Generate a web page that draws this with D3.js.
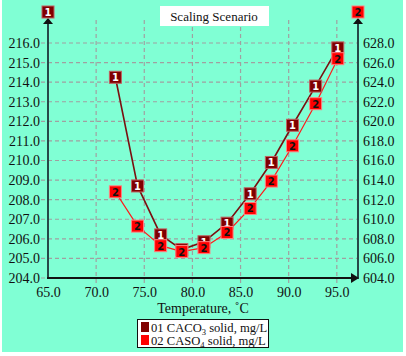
<!DOCTYPE html>
<html>
<head>
<meta charset="utf-8">
<script src="https://cdn.jsdelivr.net/npm/d3@7"></script>
<style>
  body { margin: 0; background: #fff; }
  svg text.serif { font-family: "Liberation Serif", "Times New Roman", Tinos, "DejaVu Serif", serif; }
</style>
</head>
<body>
<div id="chart"></div>
<script>
// temperatures (deg C)
const temps = [72.0, 74.3, 76.7, 78.9, 81.2, 83.6, 86.0, 88.2, 90.4, 92.8, 95.1]
// 01 CACO3 solid, mg/L (left axis)
const caco3 = [214.25, 208.7, 206.2, 205.45, 205.85, 206.8, 208.3, 209.9, 211.8, 213.8, 215.75]
// 02 CASO4 solid, mg/L (right axis)
const caso4 = [612.8, 609.3, 607.3, 606.7, 607.1, 608.65, 611.1, 613.9, 617.5, 621.8, 626.4]

const xTicks = [65, 70, 75, 80, 85, 90, 95]
const leftTicks = d3.range(204, 216.5, 1)
const rightTicks = d3.range(604, 628.5, 2)

const width = 406
const height = 356

const svg = d3.select('#chart').append('svg')
  .attr('width', width)
  .attr('height', height)

svg.append('rect')
  .attr('x', 2).attr('y', 0)
  .attr('width', 401).attr('height', 352)
  .attr('fill', '#80ffd4')

const x = d3.scaleLinear().domain([65, 97.2]).range([48, 358])
const yL = d3.scaleLinear().domain([204, 216]).range([278, 43])
const yR = d3.scaleLinear().domain([604, 628]).range([278, 43])

const gridColor = '#a0a0a0'

// grid
svg.append('g').selectAll('line')
  .data(leftTicks)
  .enter().append('line')
  .attr('x1', 41).attr('x2', 358)
  .attr('y1', d => yL(d)).attr('y2', d => yL(d))
  .attr('stroke', gridColor)
  .attr('stroke-width', 1.2)
  .attr('stroke-dasharray', '4,3')

svg.append('g').selectAll('line')
  .data(xTicks.slice(1))
  .enter().append('line')
  .attr('x1', d => x(d)).attr('x2', d => x(d))
  .attr('y1', 20).attr('y2', 284)
  .attr('stroke', gridColor)
  .attr('stroke-width', 1.2)
  .attr('stroke-dasharray', '4,3')

// axes labels
svg.append('g')
  .attr('transform', 'translate(48,0)')
  .call(d3.axisLeft(yL).tickValues(leftTicks).tickFormat(d3.format('.1f')).tickSize(0).tickPadding(8))
  .call(g => g.select('.domain').remove())
  .selectAll('text')
  .attr('class', 'serif')
  .attr('font-size', 14)
  .attr('fill', '#111')

svg.append('g')
  .attr('transform', 'translate(358,0)')
  .call(d3.axisRight(yR).tickValues(rightTicks).tickFormat(d3.format('.1f')).tickSize(0).tickPadding(5))
  .call(g => g.select('.domain').remove())
  .selectAll('text')
  .attr('class', 'serif')
  .attr('font-size', 14)
  .attr('fill', '#111')

svg.append('g')
  .attr('transform', 'translate(0,278)')
  .call(d3.axisBottom(x).tickValues(xTicks).tickFormat(d3.format('.1f')).tickSize(0).tickPadding(9))
  .call(g => g.select('.domain').remove())
  .selectAll('text')
  .attr('class', 'serif')
  .attr('font-size', 14)
  .attr('fill', '#111')

// axis lines with arrows
const axisColor = '#264848'
svg.append('line')
  .attr('x1', 48).attr('x2', 48).attr('y1', 279).attr('y2', 23)
  .attr('stroke', axisColor).attr('stroke-width', 2)
svg.append('line')
  .attr('x1', 358).attr('x2', 358).attr('y1', 279).attr('y2', 23)
  .attr('stroke', axisColor).attr('stroke-width', 2)
svg.append('line')
  .attr('x1', 47).attr('x2', 352).attr('y1', 278).attr('y2', 278)
  .attr('stroke', '#111').attr('stroke-width', 2)

svg.append('path').attr('d', 'M48,18 L43,24 L53,24 Z').attr('fill', '#111')
svg.append('path').attr('d', 'M358,18 L353,24 L363,24 Z').attr('fill', '#111')
svg.append('path').attr('d', 'M359,278 L351,273 L351,283 Z').attr('fill', '#111')

// series
const s1 = temps.map((t, i) => ({ x: x(t), y: yL(caco3[i]) }))
const s2 = temps.map((t, i) => ({ x: x(t), y: yR(caso4[i]) }))
const line = d3.line().x(d => d.x).y(d => d.y)

svg.append('path').datum(s1)
  .attr('d', line).attr('fill', 'none')
  .attr('stroke', '#7a1010').attr('stroke-width', 1.6)
svg.append('path').datum(s2)
  .attr('d', line).attr('fill', 'none')
  .attr('stroke', '#ff1a1a').attr('stroke-width', 1.2)

function marker(g, cx, cy, label, fill, stroke, color) {
  g.append('rect')
    .attr('x', cx - 6).attr('y', cy - 6)
    .attr('width', 12).attr('height', 12)
    .attr('fill', fill)
    .attr('stroke', stroke)
    .attr('stroke-width', 1)
  g.append('text')
    .attr('x', cx).attr('y', cy + 4)
    .attr('text-anchor', 'middle')
    .attr('font-size', 10)
    .attr('font-weight', 700)
    .style('font-family', 'DejaVu Sans, sans-serif')
    .attr('fill', color)
    .text(label)
}

const m1 = svg.append('g')
s1.forEach(d => marker(m1, d.x, d.y, '1', '#800000', '#c06060', '#fff'))
const m2 = svg.append('g')
s2.forEach(d => marker(m2, d.x, d.y, '2', '#ff0000', '#ff8080', '#111'))

// axis id markers
marker(svg, 48, 12, '1', '#800000', '#c06060', '#fff')
marker(svg, 358, 12, '2', '#ff0000', '#ff8080', '#111')

// title
svg.append('rect')
  .attr('x', 160).attr('y', 6).attr('width', 109).attr('height', 20)
  .attr('fill', '#fff')
svg.append('text')
  .attr('class', 'serif')
  .attr('x', 214).attr('y', 21)
  .attr('text-anchor', 'middle')
  .attr('font-size', 13)
  .attr('fill', '#111')
  .text('Scaling Scenario')

// x axis title
svg.append('text')
  .attr('class', 'serif')
  .attr('x', 203).attr('y', 313)
  .attr('text-anchor', 'middle')
  .attr('font-size', 14)
  .attr('fill', '#111')
  .text('Temperature, ˚C')

// legend
const legend = svg.append('g')
legend.append('rect')
  .attr('x', 137.5).attr('y', 319.5).attr('width', 131).attr('height', 28)
  .attr('fill', '#fff').attr('stroke', '#111').attr('stroke-width', 1)

const legendItems = [
  { num: '01 CACO', sub: '3', rest: ' solid, mg/L', color: '#800000' },
  { num: '02 CASO', sub: '4', rest: ' solid, mg/L', color: '#ff0000' }
]
legend.selectAll('.legend')
  .data(legendItems)
  .enter().append('g')
  .attr('class', 'legend')
  .attr('transform', (d, i) => `translate(141,${322 + i * 13})`)
  .each(function(d) {
    const g = d3.select(this)
    g.append('rect')
      .attr('width', 8).attr('height', 10)
      .attr('fill', d.color)
    const t = g.append('text')
      .attr('class', 'serif')
      .attr('x', 10).attr('y', 10)
      .attr('font-size', 12.6)
      .attr('fill', '#111')
    t.append('tspan').text(d.num)
    t.append('tspan').attr('font-size', 8.5).attr('dy', 3).text(d.sub)
    t.append('tspan').attr('dy', -3).text(d.rest)
  })
</script>
</body>
</html>
